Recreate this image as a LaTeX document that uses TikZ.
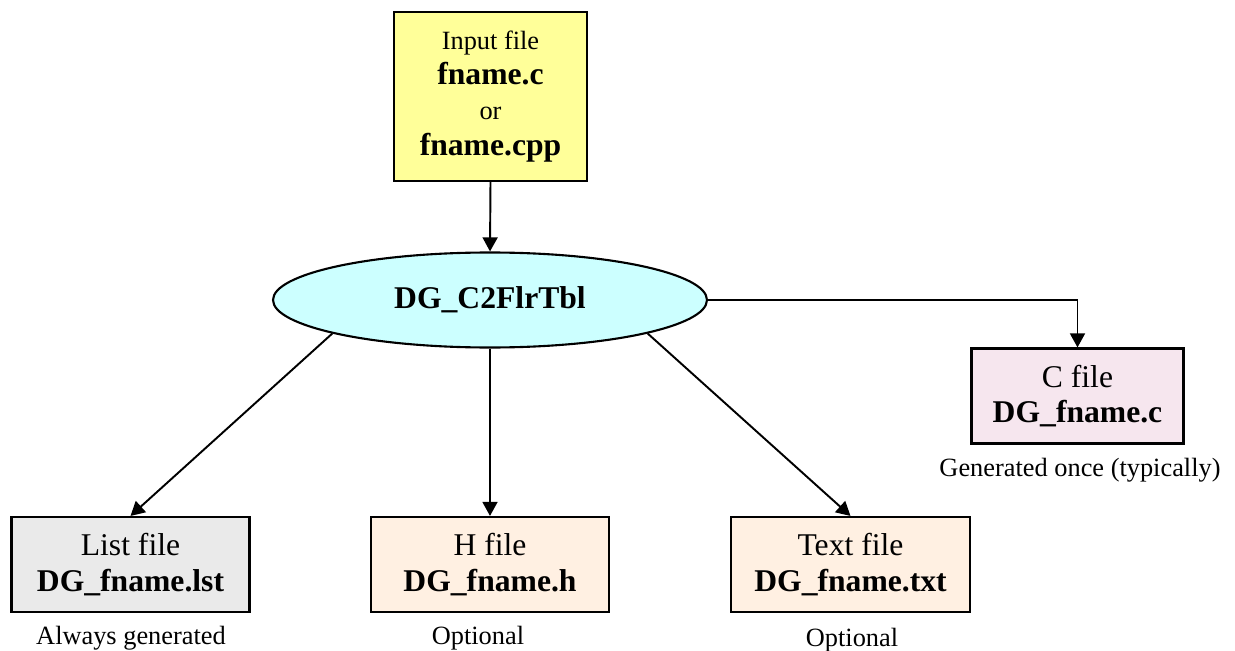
\documentclass[tikz,border=0pt]{standalone}
\usepackage{fontspec}
\setmainfont{Liberation Serif}
\usetikzlibrary{shapes.geometric,arrows.meta}
\definecolor{inyellow}{HTML}{FFFF99}
\definecolor{tblcyan}{HTML}{CCFFFF}
\definecolor{cpink}{HTML}{F6E6EE}
\definecolor{lstgray}{HTML}{EAEAEA}
\definecolor{outpeach}{HTML}{FFF0E2}
\newcommand{\labelsize}{\fontsize{18}{20}\selectfont}
\newcommand{\notesize}{\fontsize{15}{20}\selectfont}
\tikzset{
  filebox/.style={draw, line width=1.2pt, minimum width=4.76cm, minimum height=1.9cm,
    align=center, font=\labelsize},
  note/.style={font=\notesize},
  flow/.style={line width=1.1pt, -{Triangle[length=8pt,width=8.5pt]}}
}
\begin{document}
\begin{tikzpicture}
  \useasboundingbox (0,0) rectangle (24.7,-13.02);
  \node[filebox, fill=inyellow, minimum width=3.86cm, minimum height=3.38cm] (input) at (9.81,-1.93)
    {{\notesize Input file}\\\textbf{fname.c}\\{\notesize or}\\\textbf{fname.cpp}};
  \node[ellipse, draw, line width=1.2pt, fill=tblcyan, minimum width=8.68cm, minimum height=1.9cm,
    inner sep=0pt, font=\labelsize\bfseries] (tbl) at (9.8,-6.0) {DG\_C2FlrTbl};
  \node[filebox, fill=cpink, minimum width=4.24cm] (cfile) at (21.55,-7.92)
    {C file\\\textbf{DG\_fname.c}};
  \node[filebox, fill=lstgray] (lst) at (2.61,-11.29)
    {List file\\\textbf{DG\_fname.lst}};
  \node[filebox, fill=outpeach] (hfile) at (9.8,-11.29)
    {H file\\\textbf{DG\_fname.h}};
  \node[filebox, fill=outpeach, minimum width=4.78cm] (txt) at (17.01,-11.29)
    {Text file\\\textbf{DG\_fname.txt}};
  % notes under the boxes
  \node[note] (cnote) at (21.6,-9.4) {Generated once (typically)};
  \node[note] (lnote) at (2.62,-12.76) {Always generated};
  \node[note] (hnote) at (9.56,-12.76) {Optional};
  \node[note] (tnote) at (17.04,-12.8) {Optional};
  % arrows
  \draw[flow] (input.south) -- (tbl.north);
  \draw[flow] (tbl.east) -| (cfile.north);
  \draw[flow] (tbl.192.5) -- (lst.north);
  \draw[flow] (tbl.south) -- (hfile.north);
  \draw[flow] (tbl.-12.5) -- (txt.north);
\end{tikzpicture}
\end{document}
